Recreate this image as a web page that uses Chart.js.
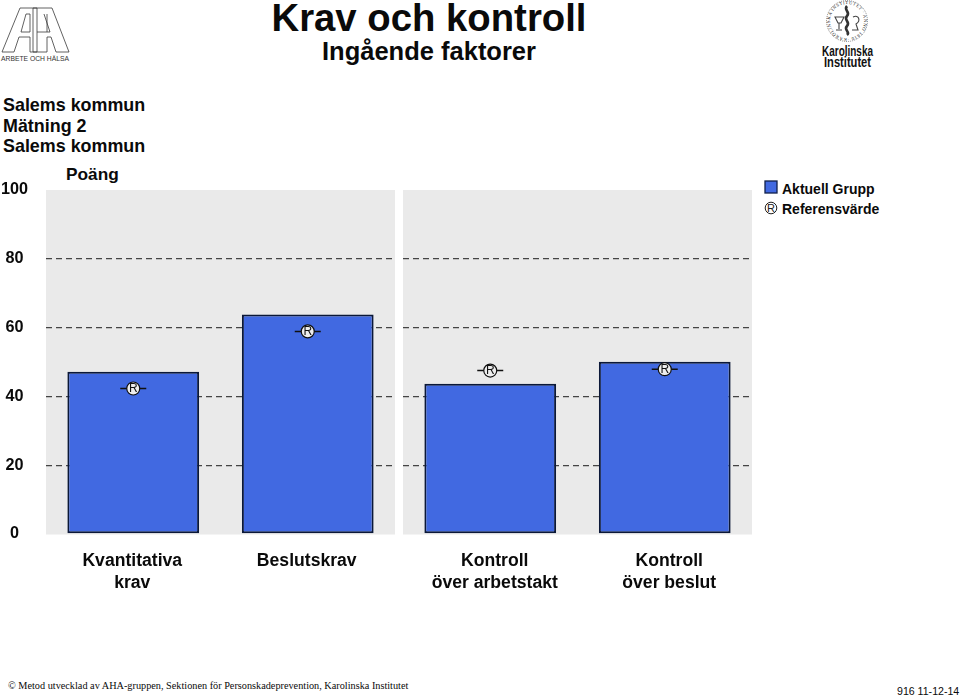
<!DOCTYPE html>
<html lang="sv"><head><meta charset="utf-8">
<script src="https://cdn.jsdelivr.net/npm/chart.js@4/dist/chart.umd.min.js"></script>
<style>
html,body{margin:0;padding:0;background:#fff;width:960px;height:697px;overflow:hidden}
body{position:relative;font-family:"Liberation Sans",Arial,sans-serif;color:#0a0a0a}
.t{position:absolute;white-space:nowrap}
canvas{position:absolute}
#cwL,#cwR{position:absolute;top:170px;height:430px}
#cwL{left:0;width:395px}#cwR{left:403px;width:349px}
svg{position:absolute;overflow:visible}
</style></head><body>
<svg id="aha" style="left:0;top:0" width="80" height="70" fill="none" stroke="#3a3a3a" stroke-width=".8">
<path d="M2 52 L20 8 L37 8 L37 52 L30 52 L30 37 L19 37 L14 52 Z"/>
<path d="M21 32 L30 32 L30 14 L26 14 Z"/>
<path d="M69 52 L52 8 L33 8 L33 52 L47 52 L47 37 L51 37 L56 52 Z"/>
<path d="M37 32 L47 32 L47 14 M50 32 L44 14 M50 32 L47 32"/>
<text x="1" y="61" font-family="Liberation Sans" font-size="7" fill="#333" stroke="none" textLength="68" lengthAdjust="spacingAndGlyphs">ARBETE OCH HÄLSA</text>
</svg>
<svg id="ki" style="left:815px;top:0" width="65" height="70" fill="none">
<defs><path id="ring" d="M32 38 a17 17 0 1 1 .1 0"/></defs>
<circle cx="32" cy="21" r="20.5" stroke="#222" stroke-width=".5" stroke-dasharray="1 1"/>
<text font-family="Liberation Serif" font-size="4.6" fill="#222" letter-spacing=".55"><textPath href="#ring">KAROLINSKA INSTITUTET · ANNO 1810 ·</textPath></text>
<path d="M32 6 C28 10 36 12 32 16 C28 20 36 22 32 26 C28 30 36 32 32 35" stroke="#333" stroke-width="2.6"/>
<path d="M20 17 h9 l-3 6 h-3 Z M24 23 v6 M21 30 h6 M38 17 c6 -3 8 4 3 7 l2 6 h-6" stroke="#444" stroke-width="1.1"/>
<text x="7" y="56" font-family="Liberation Sans" font-weight="700" font-size="15" fill="#111" textLength="51" lengthAdjust="spacingAndGlyphs">Karolinska</text>
<text x="9" y="67" font-family="Liberation Sans" font-weight="700" font-size="15" fill="#111" textLength="47" lengthAdjust="spacingAndGlyphs">Institutet</text>
</svg>
<div class="t" style="left:0;width:858px;text-align:center;top:-5px;font:bold 38.3px/46px 'Liberation Sans'">Krav och kontroll</div>
<div class="t" style="left:0;width:858px;text-align:center;top:36px;font:bold 25.5px/30px 'Liberation Sans'">Ingående faktorer</div>
<div class="t" style="left:3px;top:95px;font:bold 17.9px/21px 'Liberation Sans'">Salems kommun</div>
<div class="t" style="left:3px;top:116px;font:bold 17.9px/21px 'Liberation Sans'">Mätning 2</div>
<div class="t" style="left:3px;top:136px;font:bold 17.9px/21px 'Liberation Sans'">Salems kommun</div>
<div class="t" style="left:66px;top:164px;font:bold 17.3px/21px 'Liberation Sans'">Poäng</div>
<div id="cwL"><canvas id="left"></canvas></div>
<div id="cwR"><canvas id="right"></canvas></div>
<svg id="leg" style="left:760px;top:175px" width="20" height="45">
<rect x="5" y="6" width="12" height="12" fill="#4169e1" stroke="#10204a" stroke-width="1.3"/>
<circle cx="11" cy="33" r="5.8" fill="none" stroke="#222" stroke-width="1"/>
<text x="11" y="37" text-anchor="middle" font-family="Liberation Sans" font-size="11" fill="#222">R</text>
</svg>
<div class="t" style="left:782px;top:180px;font:bold 14px/18px 'Liberation Sans'">Aktuell Grupp</div>
<div class="t" style="left:782px;top:200px;font:bold 14px/18px 'Liberation Sans'">Referensvärde</div>
<div class="t" style="left:8px;top:679px;font:10.25px/14px 'Liberation Serif'">© Metod utvecklad av AHA-gruppen, Sektionen för Personskadeprevention, Karolinska Institutet</div>
<div class="t" style="left:897px;top:685px;font:10.6px/13px 'Liberation Sans'">916 11-12-14</div>
<script>
const categoriesLeft = [["Kvantitativa","krav"],"Beslutskrav"];
const categoriesRight = [["Kontroll","över arbetstakt"],["Kontroll","över beslut"]];
const currentLeft = [47.2, 63.8];
const currentRight = [43.7, 50.1];
const referenceLeft = [42.3, 58.9];
const referenceRight = [47.5, 47.9];
const yMin = 0, yMax = 100, yStep = 20;

const INK = '#0a0a0a';
const panel = {
  id: 'panel',
  beforeDraw(c) {
    const a = c.chartArea, x = c.ctx;
    x.save(); x.fillStyle = '#eaeaea';
    x.fillRect(a.left, a.top, a.right - a.left, a.bottom - a.top + 0.5);
    x.restore();
  }
};
const refMark = {
  id: 'refMark',
  afterDatasetsDraw(c) {
    const x = c.ctx;
    c.getDatasetMeta(1).data.forEach(p => {
      x.save();
      x.strokeStyle = '#111'; x.lineWidth = 1.5;
      x.beginPath();
      x.moveTo(p.x - 13, p.y); x.lineTo(p.x - 6.5, p.y);
      x.moveTo(p.x + 6.5, p.y); x.lineTo(p.x + 13, p.y);
      x.stroke();
      x.fillStyle = '#111'; x.font = '12px "Liberation Sans"';
      x.textAlign = 'center'; x.textBaseline = 'middle';
      x.fillText('R', p.x, p.y + 0.5);
      x.restore();
    });
  }
};
function build(id, cats, cur, ref, isLeft) {
  return new Chart(document.getElementById(id), {
    data: {
      labels: cats,
      datasets: [
        { type: 'bar', label: 'Aktuell Grupp', data: cur, order: 2,
          backgroundColor: '#4169e1', borderColor: '#0b1838', borderWidth: 2, borderSkipped: false,
          barPercentage: 0.755, categoryPercentage: 1 },
        { type: 'line', label: 'Referensvärde', data: ref, order: 1, showLine: false,
          pointStyle: 'circle', pointRadius: 6.5, pointBackgroundColor: '#eeeeee',
          pointBorderColor: '#111', pointBorderWidth: 1.2 }
      ]
    },
    options: {
      responsive: true, maintainAspectRatio: false, animation: false,
      layout: { autoPadding: false, padding: { top: 20, left: 0, right: 0, bottom: 0 } },
      plugins: { legend: { display: false }, title: { display: false }, tooltip: { enabled: false } },
      scales: {
        x: {
          type: 'category', offset: true,
          grid: { display: false, drawTicks: false }, border: { display: false },
          afterFit(s) { s.height = 66; },
          ticks: { autoSkip: false, maxRotation: 0, padding: 17, labelOffset: isLeft ? -1 : 4.5, color: INK,
            font: { family: 'Liberation Sans', size: 17.6, weight: 'bold', lineHeight: 1.2 } }
        },
        y: {
          min: yMin, max: yMax,
          afterFit(s) { s.width = isLeft ? 46 : 0; s.paddingTop = 0; s.paddingBottom = 0; },
          border: { display: false, dash: [6, 4] },
          grid: { drawTicks: false, lineWidth: 1.3,
            color: t => (t.tick && (t.tick.value === yMin || t.tick.value === yMax)) ? 'rgba(0,0,0,0)' : '#444' },
          ticks: { display: isLeft, stepSize: yStep, crossAlign: 'center', padding: 18, color: INK,
            font: { family: 'Liberation Sans', size: 16.2, weight: 'bold' } }
        }
      }
    },
    plugins: [panel, refMark]
  });
}
build('left', categoriesLeft, currentLeft, referenceLeft, true);
build('right', categoriesRight, currentRight, referenceRight, false);
</script>
</body></html>
